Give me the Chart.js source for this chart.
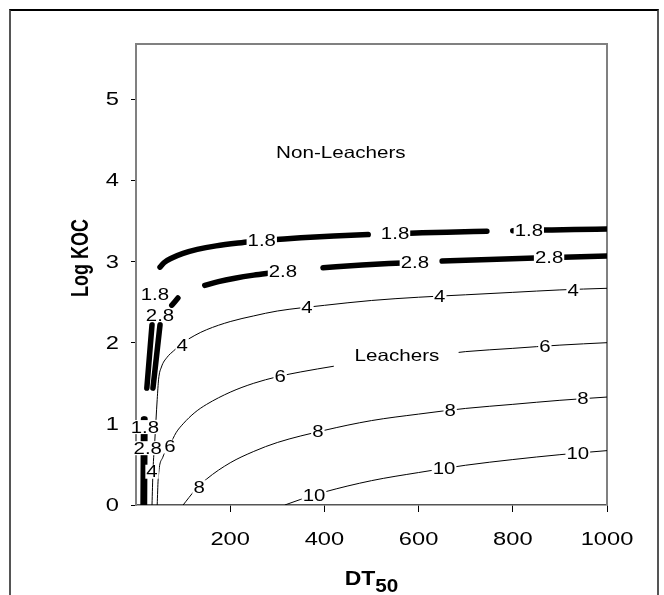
<!DOCTYPE html>
<html>
<head>
<meta charset="utf-8">
<script src="https://cdn.jsdelivr.net/npm/chart.js@4/dist/chart.umd.min.js"></script>
<style>
  html, body { margin: 0; padding: 0; background: #fff; }
  #wrap { position: relative; width: 664px; height: 595px; overflow: hidden; }
  #wrap canvas { position: absolute; left: 0; top: 0; }
  #frame { position: absolute; left: 9px; top: 9px; width: 650px; height: 600px;
           border-top: 2px solid #000; border-left: 2px solid #555; border-right: 2px solid #555;
           box-sizing: border-box; pointer-events: none; }
</style>
</head>
<body>
<div id="wrap">
  <canvas id="c" width="664" height="595"></canvas>
  <div id="frame"></div>
</div>
<script>
// GUS contours: log Koc against DT50 (days); null marks a break in a line
const gus18Dt50   = [51, 60, 75, 100, 130, 170, 240, 268, 297, 350, 420, 493, 550, 582, 660, 745, 775, 800, 808, 834, 864, 930, 1000];
const gus18LogKoc = [2.93, 2.988, 3.04, 3.10, 3.149, 3.193, 3.244, null, 3.272, 3.292, 3.314, 3.332, null, 3.349, 3.362, 3.373, null, 3.38, 3.381, null, 3.387, 3.394, 3.40];
const gus18LeftDt50   = [34, 23];
const gus18LeftLogKoc = [2.22, 1.44];
const gus18BaseDt50   = [15, 16];
const gus18BaseLogKoc = [0, 1.06];

const gus28Dt50   = [146, 175, 210, 250, 290, 340, 397, 480, 565, 592, 650, 750, 847, 877, 907, 1000];
const gus28LogKoc = [2.706, 2.752, 2.794, 2.832, 2.863, null, 2.923, 2.956, 2.983, null, 3.005, 3.026, 3.044, null, 3.053, 3.067];
const gus28LeftDt50   = [51, 36];
const gus28LeftLogKoc = [2.22, 1.44];
const gus28DashDt50   = [76, 89];
const gus28DashLogKoc = [2.46, 2.55];
const gus28BaseDt50   = [18, 19];
const gus28BaseLogKoc = [0, 1.06];

const gus4Dt50   = [34, 36, 40, 45, 48, 54, 66, 80, 100, 125, 150, 200, 250, 300, 400, 500, 600, 700, 800, 900, 1000];
const gus4LogKoc = [0, 0.41, 0.80, 1.30, 1.55, 1.70, 1.82, 1.90, 2.00, 2.09, 2.16, 2.26, 2.33, 2.39, 2.46, 2.52, 2.56, 2.59, 2.62, 2.65, 2.67];

const gus6Dt50   = [45, 47, 57, 72, 85, 100, 125, 150, 200, 250, 300, 350, 420, 550, 685, 700, 800, 900, 1000];
const gus6LogKoc = [0, 0.31, 0.59, 0.74, 0.89, 1.00, 1.14, 1.24, 1.39, 1.50, 1.58, 1.64, 1.71, null, 1.88, 1.89, 1.93, 1.97, 2.00];

const gus8Dt50   = [100, 125, 150, 200, 250, 300, 400, 500, 600, 700, 800, 900, 1000];
const gus8LogKoc = [0, 0.18, 0.32, 0.52, 0.66, 0.77, 0.92, 1.04, 1.12, 1.19, 1.24, 1.29, 1.33];

const gus10Dt50   = [316, 350, 400, 500, 600, 700, 800, 900, 1000];
const gus10LogKoc = [0, 0.07, 0.16, 0.30, 0.40, 0.49, 0.56, 0.62, 0.67];

// inline contour labels
const labelText   = ['1.8', '1.8', '1.8', '1.8', '1.8',
                     '2.8', '2.8', '2.8', '2.8', '2.8',
                     '4', '4', '4', '4', '4',
                     '6', '6', '6',
                     '8', '8', '8', '8',
                     '10', '10', '10'];
const labelDt50   = [40, 19, 267, 550, 834,
                     51, 25, 312, 592, 877,
                     34, 98, 363, 645, 928,
                     72, 306, 868,
                     134, 386, 667, 949,
                     378, 654, 938];
const labelLogKoc = [2.59, 0.96, 3.26, 3.343, 3.384,
                     2.34, 0.70, 2.877, 2.99, 3.049,
                     0.41, 1.97, 2.44, 2.576, 2.64,
                     0.72, 1.587, 1.958,
                     0.22, 0.907, 1.167, 1.31,
                     0.12, 0.448, 0.635];

// region names
const regionText   = ['Non-Leachers', 'Leachers'];
const regionDt50   = [435, 554];
const regionLogKoc = [4.33, 1.83];

const xTicks = [200, 400, 600, 800, 1000];
const yTicks = [0, 1, 2, 3, 4, 5];

const FONT = '"Liberation Sans", Arial, Helvetica, sans-serif';
const WIDE = 1.28;   // the lettering is set wide

function pts(xs, ys) {
  return xs.map((x, i) => ({ x: x, y: ys[i] }));
}
function thick(xs, ys, clip) {
  const d = { data: pts(xs, ys), borderColor: '#000', borderWidth: 5.5, borderCapStyle: 'round',
              borderJoinStyle: 'round', cubicInterpolationMode: 'monotone', spanGaps: false, pointRadius: 0 };
  if (clip !== undefined) d.clip = clip;
  return d;
}
function thin(xs, ys) {
  return { data: pts(xs, ys), borderColor: '#000', borderWidth: 1, cubicInterpolationMode: 'monotone',
           spanGaps: false, pointRadius: 0, clip: 0 };
}

// text drawn with a horizontal stretch
function wideText(ctx, text, x, y, font, align, baseline, sx) {
  ctx.save();
  ctx.translate(x, y);
  ctx.scale(sx || WIDE, 1);
  ctx.font = font;
  ctx.textAlign = align;
  ctx.textBaseline = baseline;
  ctx.fillStyle = '#000';
  ctx.fillText(text, 0, 0);
  ctx.restore();
}
function wideWidth(ctx, text, font, sx) {
  ctx.save();
  ctx.font = font;
  const w = ctx.measureText(text).width * (sx || WIDE);
  ctx.restore();
  return w;
}

const datasets = [
  thin(gus4Dt50, gus4LogKoc),
  thin(gus6Dt50, gus6LogKoc),
  thin(gus8Dt50, gus8LogKoc),
  thin(gus10Dt50, gus10LogKoc),
  thick(gus18Dt50, gus18LogKoc),
  thick(gus18LeftDt50, gus18LeftLogKoc),
  thick(gus18BaseDt50, gus18BaseLogKoc, 0),
  thick(gus28Dt50, gus28LogKoc),
  thick(gus28LeftDt50, gus28LeftLogKoc),
  thick(gus28DashDt50, gus28DashLogKoc),
  thick(gus28BaseDt50, gus28BaseLogKoc, 0)
];

const decorations = {
  id: 'decorations',
  beforeDatasetsDraw(chart) {
    const { ctx, chartArea: a } = chart;
    ctx.save();
    ctx.strokeStyle = '#808080';
    ctx.lineWidth = 2;
    ctx.beginPath();
    ctx.moveTo(a.left, a.top);
    ctx.lineTo(a.right, a.top);
    ctx.lineTo(a.right, a.bottom);
    ctx.stroke();
    ctx.restore();
  },
  afterDatasetsDraw(chart) {
    const { ctx } = chart;
    const xs = chart.scales.x, ys = chart.scales.y;
    const lf = '17px ' + FONT;
    labelText.forEach((t, i) => {
      const px = xs.getPixelForValue(labelDt50[i]);
      const py = ys.getPixelForValue(labelLogKoc[i]);
      const w = wideWidth(ctx, t, lf, 1.2);
      ctx.fillStyle = '#fff';
      ctx.fillRect(px - w / 2 - 1, py - 7, w + 2, 14);
      wideText(ctx, t, px, py + 1, lf, 'center', 'middle', 1.2);
    });
    regionText.forEach((t, i) => {
      wideText(ctx, t, xs.getPixelForValue(regionDt50[i]), ys.getPixelForValue(regionLogKoc[i]),
               '16.5px ' + FONT, 'center', 'middle', 1.25);
    });
  },
  afterDraw(chart) {
    const { ctx, chartArea: a } = chart;
    const xs = chart.scales.x, ys = chart.scales.y;
    const tf = '18.5px ' + FONT;
    // tick labels
    yTicks.forEach(v => wideText(ctx, String(v), 119, ys.getPixelForValue(v) + 1, tf, 'right', 'middle'));
    xTicks.forEach(v => wideText(ctx, String(v), xs.getPixelForValue(v), 540, tf, 'center', 'middle'));
    // y axis title
    ctx.save();
    ctx.translate(82, 258);
    ctx.scale(WIDE, 1);
    ctx.rotate(-Math.PI / 2);
    ctx.textAlign = 'center';
    ctx.textBaseline = 'middle';
    ctx.fillStyle = '#000';
    ctx.font = 'bold 18px ' + FONT;
    ctx.fillText('Log KOC', 0, 0);
    ctx.restore();
    // x axis title with subscript
    const big = 'bold 20px ' + FONT, small = 'bold 18px ' + FONT;
    const w1 = wideWidth(ctx, 'DT', big, 1.15);
    const w2 = wideWidth(ctx, '50', small, 1.15);
    const x0 = (a.left + a.right) / 2 - (w1 + w2) / 2;
    wideText(ctx, 'DT', x0, 585, big, 'left', 'alphabetic', 1.15);
    wideText(ctx, '50', x0 + w1, 592, small, 'left', 'alphabetic', 1.15);
  }
};

new Chart(document.getElementById('c'), {
  type: 'line',
  data: { datasets: datasets },
  options: {
    responsive: false,
    animation: false,
    devicePixelRatio: 1,
    layout: { padding: { top: 44, right: 57, left: 0, bottom: 0 } },
    plugins: { legend: { display: false }, tooltip: { enabled: false } },
    scales: {
      x: {
        type: 'linear', min: 0, max: 1000,
        afterBuildTicks: s => { s.ticks = xTicks.map(v => ({ value: v })); },
        ticks: { display: false },
        grid: { drawOnChartArea: false, drawTicks: true, tickLength: 7, color: '#000', lineWidth: 1 },
        border: { display: true, color: '#555', width: 1.5 },
        afterFit: s => { s.height = 90; }
      },
      y: {
        type: 'linear', min: 0, max: 5.68,
        afterBuildTicks: s => { s.ticks = yTicks.map(v => ({ value: v })); },
        ticks: { display: false },
        grid: { drawOnChartArea: false, drawTicks: true, tickLength: 5, color: '#000', lineWidth: 1 },
        border: { display: true, color: '#808080', width: 2 },
        afterFit: s => { s.width = 136; }
      }
    }
  },
  plugins: [decorations]
});
</script>
</body>
</html>
